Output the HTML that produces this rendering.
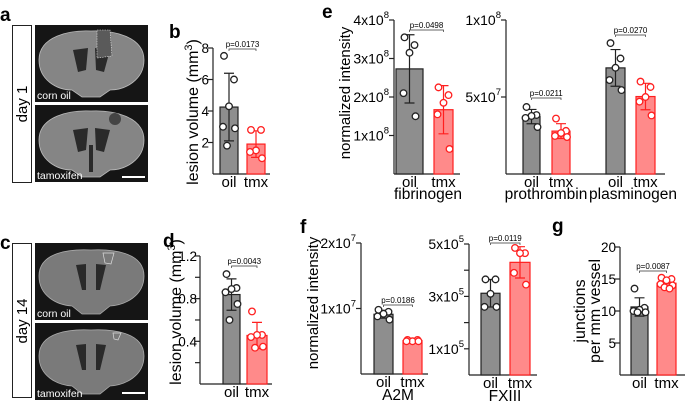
<!DOCTYPE html>
<html><head><meta charset="utf-8"><style>
html,body{margin:0;padding:0;background:#fff;}
svg{display:block;font-family:"Liberation Sans",Arial,sans-serif;}
</style></head><body>
<svg id="fig" width="685" height="401" viewBox="0 0 685 401" xmlns="http://www.w3.org/2000/svg">
  <text x="0" y="21" font-size="19" font-weight="bold">a</text>
  <text x="169" y="38" font-size="19" font-weight="bold">b</text>
  <text x="322" y="18" font-size="19" font-weight="bold">e</text>
  <text x="0" y="249" font-size="19" font-weight="bold">c</text>
  <text x="163" y="247" font-size="19" font-weight="bold">d</text>
  <text x="300" y="233" font-size="19" font-weight="bold">f</text>
  <text x="552" y="232" font-size="19" font-weight="bold">g</text>

  <g>
    <rect x="12.5" y="25.5" width="19" height="157" fill="#fff" stroke="#222" stroke-width="1"/>
    <text transform="translate(27,104) rotate(-90)" text-anchor="middle" font-size="15">day 1</text>
    <g>
      <rect x="35" y="25" width="113" height="77" fill="#151515"/>
      <path d="M39 60 C39 36 70 30 91 31 C112 30 144 36 144 60 C144 80 125 90 110 90 L100 97 L82 97 L72 90 C57 90 39 80 39 60Z" fill="#858585" stroke="#bbb" stroke-width="0.8"/>
      <path d="M73 50 L88 48 L86 70 L78 72Z M95 48 L110 50 L104 72 L96 70Z" fill="#2a2a2a"/>
      <path d="M97 30 L110 30 L112 56 L97 58Z" fill="#5a5a5a" stroke="#ddd" stroke-width="0.6" stroke-dasharray="1.5,1"/>
      <text x="37" y="99" font-size="10.5" fill="#fff">corn oil</text>
    </g>
    <g>
      <rect x="35" y="105" width="113" height="77" fill="#151515"/>
      <path d="M39 140 C39 116 70 110 91 111 C112 110 144 116 144 140 C144 160 125 170 110 170 L100 177 L82 177 L72 170 C57 170 39 160 39 140Z" fill="#858585" stroke="#bbb" stroke-width="0.8"/>
      <path d="M73 130 L88 128 L86 150 L78 152Z M95 128 L110 130 L104 152 L96 150Z M89 145 L93 145 L93 172 L89 172Z" fill="#2a2a2a"/>
      <ellipse cx="115" cy="119" rx="6" ry="6" fill="#444"/>
      <text x="37" y="179" font-size="10.5" fill="#fff">tamoxifen</text>
      <line x1="122" y1="177" x2="145" y2="177" stroke="#fff" stroke-width="2"/>
    </g>
  </g>

  <g>
    <rect x="12.5" y="243.5" width="19" height="154" fill="#fff" stroke="#222" stroke-width="1"/>
    <text transform="translate(27,321) rotate(-90)" text-anchor="middle" font-size="15">day 14</text>
    <g>
      <rect x="35" y="243" width="113" height="77" fill="#151515"/>
      <path d="M39 276 C39 252 70 249 91 250 C112 249 144 252 144 276 C144 296 125 305 110 306 L100 314 L82 314 L72 306 C57 305 39 296 39 276Z" fill="#7a7a7a" stroke="#aaa" stroke-width="0.8"/>
      <path d="M76 265 L86 264 L86 290 L82 290Z M96 264 L106 265 L100 290 L96 290Z" fill="#2a2a2a"/>
      <path d="M103 253 L114 253 L111 264 L105 263Z" fill="none" stroke="#ddd" stroke-width="0.7"/>
      <text x="37" y="317" font-size="10.5" fill="#fff">corn oil</text>
    </g>
    <g>
      <rect x="35" y="323" width="113" height="77" fill="#151515"/>
      <path d="M39 356 C39 332 70 329 91 330 C112 329 144 332 144 356 C144 376 125 385 110 386 L100 394 L82 394 L72 386 C57 385 39 376 39 356Z" fill="#7a7a7a" stroke="#aaa" stroke-width="0.8"/>
      <path d="M76 345 L86 344 L86 370 L82 370Z M96 344 L106 345 L100 370 L96 370Z" fill="#2a2a2a"/>
      <path d="M113 333 L121 333 L118 340 L114 339Z" fill="none" stroke="#ddd" stroke-width="0.7"/>
      <text x="37" y="397" font-size="10.5" fill="#fff">tamoxifen</text>
      <line x1="122" y1="393" x2="145" y2="393" stroke="#fff" stroke-width="2"/>
    </g>
  </g>

  <text transform="translate(198,112) rotate(-90)" text-anchor="middle" font-size="16">lesion volume (mm<tspan font-size="11" dy="-6">3</tspan><tspan dy="6">)</tspan></text>
  <text transform="translate(181,312) rotate(-90)" text-anchor="middle" font-size="16">lesion volume (mm<tspan font-size="11" dy="-6">3</tspan><tspan dy="6">)</tspan></text>
  <text transform="translate(350,93) rotate(-90)" text-anchor="middle" font-size="15">normalized intensity</text>
  <text transform="translate(318,303) rotate(-90)" text-anchor="middle" font-size="15">normalized intensity</text>
  <text transform="translate(585,311) rotate(-90)" text-anchor="middle" font-size="16">junctions</text>
  <text transform="translate(600,311) rotate(-90)" text-anchor="middle" font-size="16">per mm vessel</text>

  <text x="428" y="199" text-anchor="middle" font-size="15.5">fibrinogen</text>
  <text x="546" y="199" text-anchor="middle" font-size="15.5">prothrombin</text>
  <text x="633" y="199" text-anchor="middle" font-size="15.5">plasminogen</text>
  <text x="398" y="400" text-anchor="middle" font-size="15.5">A2M</text>
  <text x="505" y="401" text-anchor="middle" font-size="15.5">FXIII</text>

  <g id="charts"></g>
</svg>
<script>
const catLabels = ["oil", "tmx"];
const bOil = [7.5, 6.0, 4.3, 3.0, 2.9, 1.8];
const bTmx = [2.8, 2.8, 1.5, 1.4, 1.0];
const bTicks = [2, 4, 6, 8];
const bTickLabels = ["2", "4", "6", "8"];
const bP = "p=0.0173";

const dOil = [1.03, 0.9, 0.89, 0.86, 0.75, 0.6];
const dTmx = [0.68, 0.46, 0.46, 0.44, 0.35, 0.34];
const dTicks = [0.4, 0.8, 1.2];
const dTickLabels = ["0.4", "0.8", "1.2"];
const dMinor = [0.2, 0.6, 1.0];
const dP = "p=0.0043";

const fibOil = [3.55, 3.35, 3.15, 2.1, 1.5];
const fibTmx = [2.25, 2.05, 1.85, 1.55, 0.65];
const fibTicks = [1, 2, 3, 4];
const fibTickLabels = ["1x10^8", "2x10^8", "3x10^8", "4x10^8"];
const fibP = "p=0.0498";

const proOil = [4.35, 3.83, 3.77, 3.64, 3.05];
const proTmx = [3.6, 2.8, 2.66, 2.47, 2.4];
const plaOil = [8.5, 7.5, 6.9, 6.1, 5.45];
const plaTmx = [6.0, 5.65, 5.0, 4.7, 3.8];
const ppTicks = [5, 10];
const ppTickLabels = ["5x10^7", "1x10^8"];
const proP = "p=0.0211";
const plaP = "p=0.0270";

const a2mOil = [0.98, 0.95, 0.92, 0.88, 0.83];
const a2mTmx = [0.52, 0.52, 0.5, 0.5, 0.5];
const a2mTicks = [1, 2];
const a2mTickLabels = ["1x10^7", "2x10^7"];
const a2mP = "p=0.0186";

const fxOil = [3.65, 3.65, 3.1, 2.6, 2.6];
const fxTmx = [4.85, 4.65, 4.65, 3.9, 3.45];
const fxTicks = [1, 3, 5];
const fxTickLabels = ["1x10^5", "3x10^5", "5x10^5"];
const fxMinor = [2, 4];
const fxP = "p=0.0119";

const gOil = [13.5, 10.5, 10.2, 10, 9.8, 9.8];
const gTmx = [15.2, 15, 14.8, 14.2, 14, 13.7, 13.5];
const gTicks = [5, 10, 15, 20];
const gTickLabels = ["5", "10", "15", "20"];
const gP = "p=0.0087";

const NS = "http://www.w3.org/2000/svg";
const root = document.getElementById("charts");
function mk(tag, attrs, parent) {
  const e = document.createElementNS(NS, tag);
  for (const k in attrs) e.setAttribute(k, attrs[k]);
  (parent || root).appendChild(e);
  return e;
}
function mean(a) { return a.reduce((s, v) => s + v, 0) / a.length; }
function sd(a) { const m = mean(a); return Math.sqrt(a.reduce((s, v) => s + (v - m) * (v - m), 0) / (a.length - 1)); }
const jitter = [-5, 5, 0, -6, 6, -2, 3];

function tickLabel(g, x, y, s) {
  const parts = s.split("^");
  const t = mk("text", { x: x, y: y, "text-anchor": "end", "font-size": parts.length === 1 ? 13.5 : 14 }, g);
  
  
  if (parts.length === 1) { t.textContent = s; return; }
  const a = mk("tspan", {}, t); a.textContent = parts[0];
  const b = mk("tspan", { "font-size": 9.5, dy: -7 }, t); b.textContent = parts[1];
}

function chart(name, o) {
  const g = mk("g", {});
  
  
  const y = v => o.y0 - v * o.k;
  const gap = o.gap || 5;
  const ya = mk("line", { x1: o.ax, x2: o.ax, y1: o.top, y2: o.y0, stroke: "#222", "stroke-width": 1.2 }, g);
  
  
  const xa = mk("line", { x1: o.ax, x2: o.end, y1: o.y0, y2: o.y0, stroke: "#222", "stroke-width": 1.2 }, g);
  
  
  o.ticks.forEach((v, i) => {
    const tl = mk("line", { x1: o.ax - 5, x2: o.ax, y1: y(v), y2: y(v), stroke: "#222", "stroke-width": 1.2 }, g);
    
    
    tickLabel(g, o.ax - gap, y(v) + 5, o.labels[i]);
  });
  (o.minor || []).forEach(v => {
    const tl = mk("line", { x1: o.ax - 5, x2: o.ax, y1: y(v), y2: y(v), stroke: "#222", "stroke-width": 1.2 }, g);
    
    
  });
  o.series.forEach((vals, i) => {
    const [x0, x1] = o.bars[i];
    const tmx = i % 2 === 1;
    const fill = tmx ? "#ff8a8a" : "#8e8e8e";
    const stroke = tmx ? "#ff1f1f" : "#222";
    const m = mean(vals), s = sd(vals), cx = (x0 + x1) / 2;
    const r = mk("rect", { x: x0, y: y(m), width: x1 - x0, height: o.y0 - y(m), fill: fill, stroke: stroke, "stroke-width": 1.2 }, g);
    
    
    const e = mk("path", { d: `M${cx} ${y(m - s)}V${y(m + s)}M${cx - 5} ${y(m + s)}H${cx + 5}M${cx - 5} ${y(m - s)}H${cx + 5}`, stroke: stroke, "stroke-width": 1.2, fill: "none" }, g);
    
    
    vals.forEach((v, j) => {
      const c = mk("circle", { cx: cx + jitter[j % jitter.length], cy: y(v), r: 3.3, fill: "#fff", stroke: stroke, "stroke-width": 1.3 }, g);
      
      
    });
    const xl = mk("text", { x: cx, y: o.y0 + 13, "text-anchor": "middle", "font-size": 15 }, g);
    
    
    xl.textContent = catLabels[i % 2];
  });
  (o.pvals || []).forEach(p => {
    const xa0 = (o.bars[p.i][0] + o.bars[p.i][1]) / 2, xb = (o.bars[p.i + 1][0] + o.bars[p.i + 1][1]) / 2;
    const br = mk("path", { d: `M${xa0} ${p.y + 2}V${p.y}H${xb}V${p.y + 2}`, stroke: "#333", "stroke-width": 0.7, fill: "none" }, g);
    
    
    const t = mk("text", { x: (xa0 + xb) / 2, y: p.y - 2, "text-anchor": "middle", "font-size": 8 }, g);
    
    
    t.textContent = p.t;
  });
}

chart("chart-b", { ax: 213, y0: 174, k: 15.75, top: 48, end: 270, gap: 4, bars: [[220, 238], [247, 265]], series: [bOil, bTmx], ticks: bTicks, labels: bTickLabels, pvals: [{ i: 0, y: 49, t: bP }] });
chart("chart-d", { ax: 200, y0: 384, k: 106.7, top: 256, end: 272, gap: 3, bars: [[223, 240], [247, 267]], series: [dOil, dTmx], ticks: dTicks, labels: dTickLabels, minor: dMinor, pvals: [{ i: 0, y: 266, t: dP }] });
chart("chart-e-fibrinogen", { ax: 394, y0: 174, k: 38.5, top: 20, end: 460, bars: [[396, 423], [434, 453]], series: [fibOil, fibTmx], ticks: fibTicks, labels: fibTickLabels, pvals: [{ i: 0, y: 30, t: fibP }] });
chart("chart-e-pro-plasminogen", { ax: 506, y0: 174, k: 15.4, top: 20, end: 665, bars: [[523, 540], [552, 570], [606, 625], [636, 655]], series: [proOil, proTmx, plaOil, plaTmx], ticks: ppTicks, labels: ppTickLabels, pvals: [{ i: 0, y: 98, t: proP }, { i: 2, y: 35, t: plaP }] });
chart("chart-f-a2m", { ax: 361, y0: 374, k: 65.5, top: 243, end: 428, bars: [[374, 393], [403, 422]], series: [a2mOil, a2mTmx], ticks: a2mTicks, labels: a2mTickLabels, pvals: [{ i: 0, y: 305, t: a2mP }] });
chart("chart-f-fxiii", { ax: 469, y0: 375, k: 26.2, top: 244, end: 537, bars: [[481, 500], [510, 530]], series: [fxOil, fxTmx], ticks: fxTicks, labels: fxTickLabels, minor: fxMinor, pvals: [{ i: 0, y: 243, t: fxP }] });
chart("chart-g", { ax: 620, y0: 375, k: 6.4, top: 247, end: 685, gap: 4, bars: [[631, 648], [657, 676]], series: [gOil, gTmx], ticks: gTicks, labels: gTickLabels, pvals: [{ i: 0, y: 271, t: gP }] });
</script>
</body></html>
